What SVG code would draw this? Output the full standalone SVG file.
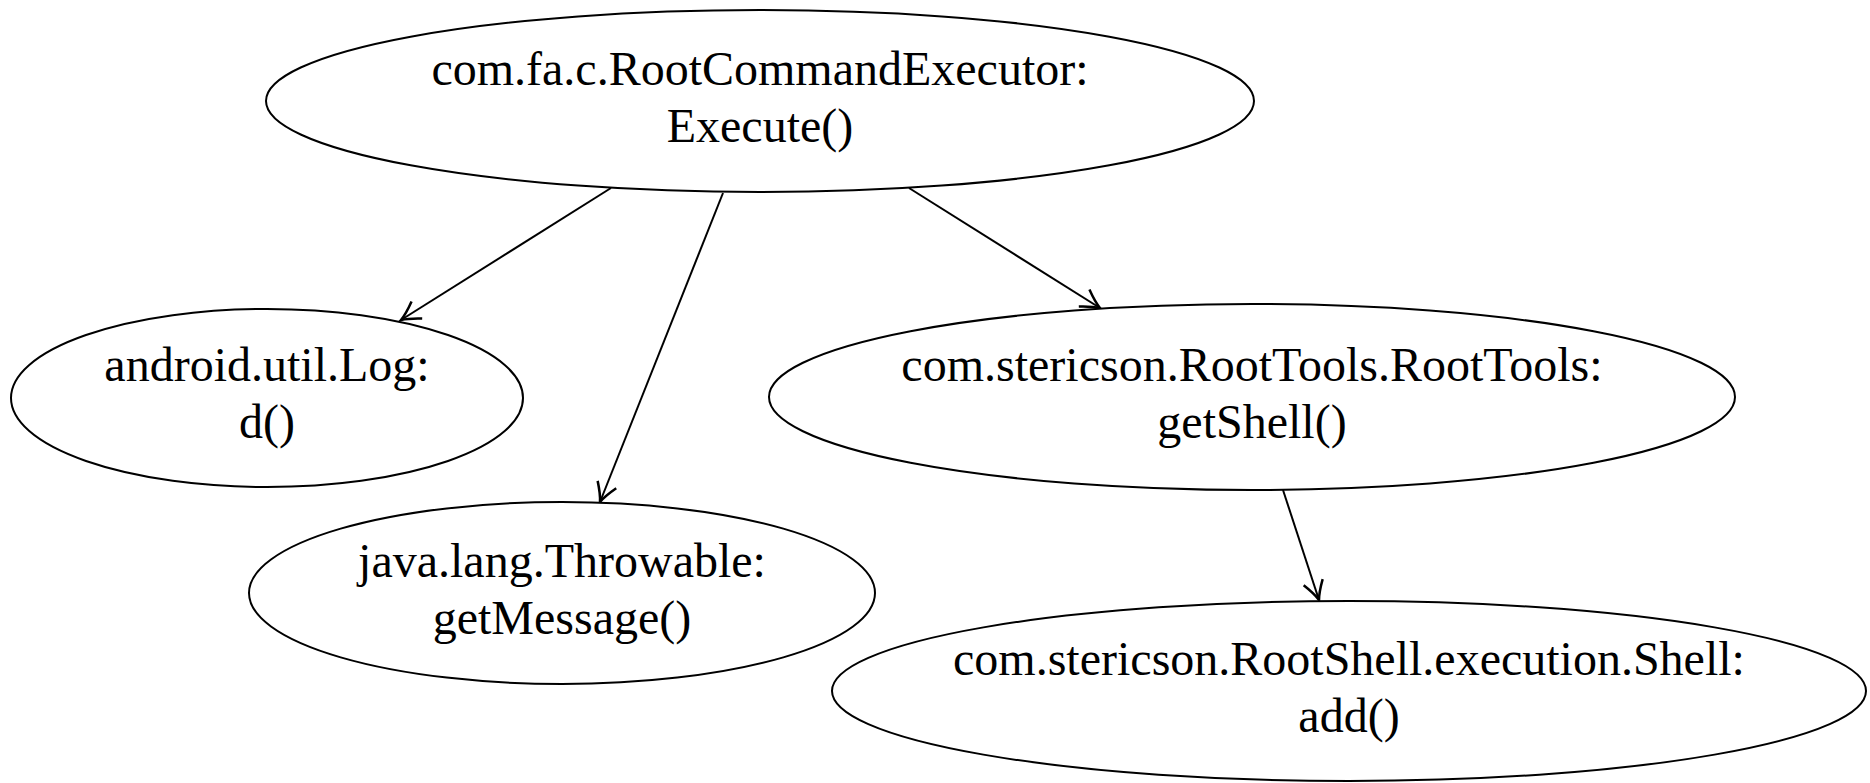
<svg xmlns="http://www.w3.org/2000/svg" width="1870" height="783" viewBox="0 0 1870 783">
<style>
.node ellipse{fill:#fff;stroke:#000;stroke-width:2}
.node text{font-family:"Liberation Serif","Times New Roman",serif;font-size:48px;fill:#000;text-anchor:middle}
.edge{fill:none;stroke:#000;stroke-width:2;marker-end:url(#arr)}
</style>
<defs>
<marker id="arr" markerUnits="userSpaceOnUse" markerWidth="30" markerHeight="30" viewBox="-20 -12 24 24" refX="0" refY="0" orient="auto">
<path d="M-15,-8 Q-6,-2 0,0 Q-6,2 -15,8" fill="none" stroke="#000" stroke-width="2"/>
</marker>
</defs>
<rect width="1870" height="783" fill="#fff"/>
<g id="connectors">
<line class="edge" x1="611" y1="188" x2="401" y2="320"/>
<line class="edge" x1="723" y1="193" x2="600" y2="502"/>
<line class="edge" x1="909" y1="188" x2="1100" y2="308"/>
<line class="edge" x1="1283" y1="490" x2="1319" y2="600"/>
</g>
<g id="node-executor" class="node">
<ellipse cx="760" cy="101" rx="494" ry="91"/>
<text x="760" y="85">com.fa.c.RootCommandExecutor:</text>
<text x="760" y="142">Execute()</text>
</g>
<g id="node-log" class="node">
<ellipse cx="267" cy="398" rx="256" ry="89"/>
<text x="267" y="381">android.util.Log:</text>
<text x="267" y="438">d()</text>
</g>
<g id="node-roottools" class="node">
<ellipse cx="1252" cy="397" rx="483" ry="93"/>
<text x="1252" y="381">com.stericson.RootTools.RootTools:</text>
<text x="1252" y="438">getShell()</text>
</g>
<g id="node-throwable" class="node">
<ellipse cx="562" cy="593" rx="313" ry="91"/>
<text x="562" y="577">java.lang.Throwable:</text>
<text x="562" y="634">getMessage()</text>
</g>
<g id="node-shell" class="node">
<ellipse cx="1349" cy="691" rx="517" ry="90"/>
<text x="1349" y="675">com.stericson.RootShell.execution.Shell:</text>
<text x="1349" y="732">add()</text>
</g>
</svg>
